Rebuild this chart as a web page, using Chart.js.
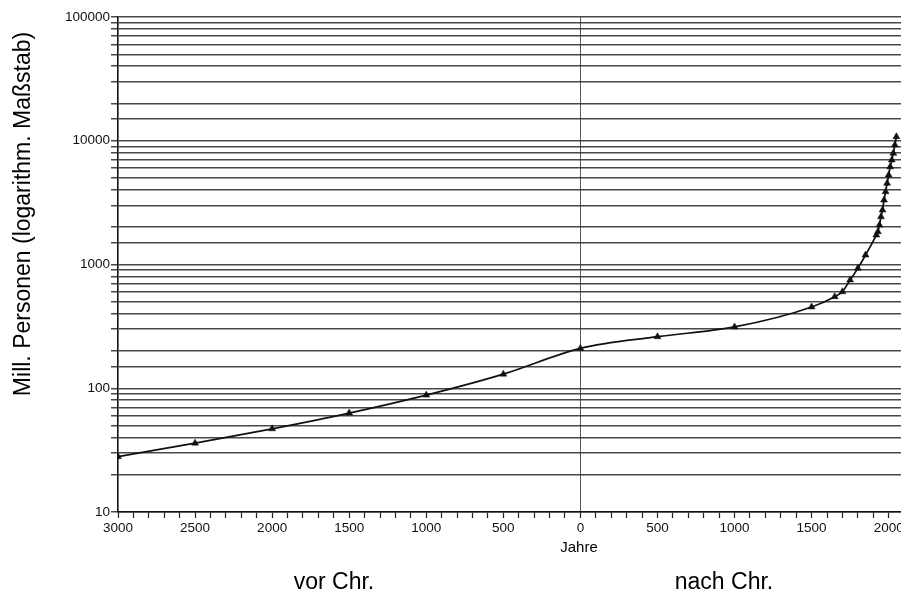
<!DOCTYPE html>
<html>
<head>
<meta charset="utf-8">
<script src="https://cdn.jsdelivr.net/npm/chart.js@4.4.0/dist/chart.umd.js"></script>
<style>
  body { margin: 0; background: #fff; }
  #wrap { position: relative; width: 901px; height: 595px; }
</style>
</head>
<body>
<div id="wrap"><canvas id="chart"></canvas></div>
<script>
// Weltbevölkerung, Mill. Personen
const years = [-3000, -2500, -2000, -1500, -1000, -500, 0, 500, 1000, 1500,
  1650, 1700, 1750, 1800, 1850, 1920, 1930, 1940, 1950, 1960,
  1970, 1980, 1990, 2000, 2010, 2020, 2030, 2040, 2050];
const population = [28, 36, 47, 63, 88, 130, 210, 261, 313, 454,
  550, 603, 750, 931, 1193, 1730, 1840, 2085, 2432, 2755,
  3318, 3873, 4529, 5285, 6166, 6982, 7918, 9243, 10790];

// tick labels
const xLabelYears = [-3000, -2500, -2000, -1500, -1000, -500, 0, 500, 1000, 1500, 2000];
const yLabelValues = [10, 100, 1000, 10000, 100000];

const FONT = "'Liberation Sans', Arial, Helvetica, sans-serif";

// extra captions: axis titles and era labels
const captions = {
  id: 'captions',
  afterDraw(chart) {
    const ctx = chart.ctx;
    ctx.save();
    ctx.fillStyle = '#000';
    ctx.textAlign = 'center';
    ctx.textBaseline = 'middle';

    ctx.font = '15px ' + FONT;
    ctx.fillText('Jahre', 579, 548);

    ctx.font = '23px ' + FONT;
    ctx.fillText('vor Chr.', 334, 583);
    ctx.fillText('nach Chr.', 724, 583);

    ctx.translate(24, 214);
    ctx.rotate(-Math.PI / 2);
    ctx.fillText('Mill. Personen (logarithm. Maßstab)', 0, 0);
    ctx.restore();
  }
};

new Chart(document.getElementById('chart'), {
  type: 'line',
  data: {
    datasets: [{
      data: years.map((x, i) => ({x: x, y: population[i]})),
      borderColor: '#111',
      borderWidth: 1.7,
      cubicInterpolationMode: 'monotone',
      pointStyle: 'triangle',
      pointRadius: 4,
      pointBackgroundColor: '#111',
      pointBorderColor: '#111',
      pointBorderWidth: 0.5,
      fill: false,
    }],
  },
  options: {
    responsive: true,
    maintainAspectRatio: false,
    animation: false,
    layout: {autoPadding: false, padding: {top: 17, right: 0, left: 0, bottom: 0}},
    plugins: {
      legend: {display: false},
      tooltip: {enabled: false},
    },
    scales: {
      x: {
        type: 'linear',
        min: -3000,
        max: 2080,
        afterBuildTicks: scale => {
          scale.ticks = scale.ticks.filter(t => t.value % 100 === 0);
        },
        afterFit: scale => {
          scale.height = 83;
          scale.paddingLeft = 0;
          scale.paddingRight = 0;
        },
        ticks: {
          stepSize: 100,
          includeBounds: false,
          autoSkip: false,
          maxRotation: 0,
          padding: 2,
          color: '#111',
          font: {family: FONT, size: 13.5},
          callback: v => (xLabelYears.includes(v) ? String(Math.abs(v)) : ''),
        },
        grid: {
          color: c => (c.tick && c.tick.value === 0 ? 'rgba(50,50,50,0.8)' : 'rgba(0,0,0,0)'),
          lineWidth: 1,
          tickColor: '#222',
          tickLength: 6,
          tickWidth: 1.2,
        },
        border: {display: true, color: '#111', width: 1.6},
      },
      y: {
        type: 'logarithmic',
        min: 10,
        max: 100000,
        afterFit: scale => {
          scale.width = 118;
          scale.paddingTop = 0;
          scale.paddingBottom = 0;
        },
        ticks: {
          autoSkip: false,
          padding: 1,
          color: '#111',
          font: {family: FONT, size: 13.5},
          callback: v => (yLabelValues.includes(v) ? String(v) : ''),
        },
        grid: {
          color: 'rgba(40,40,40,0.85)',
          lineWidth: 1.5,
          tickColor: 'rgba(40,40,40,0.85)',
          tickLength: 7,
        },
        border: {display: true, color: '#111', width: 1.6},
      },
    },
  },
  plugins: [captions],
});
</script>
</body>
</html>
